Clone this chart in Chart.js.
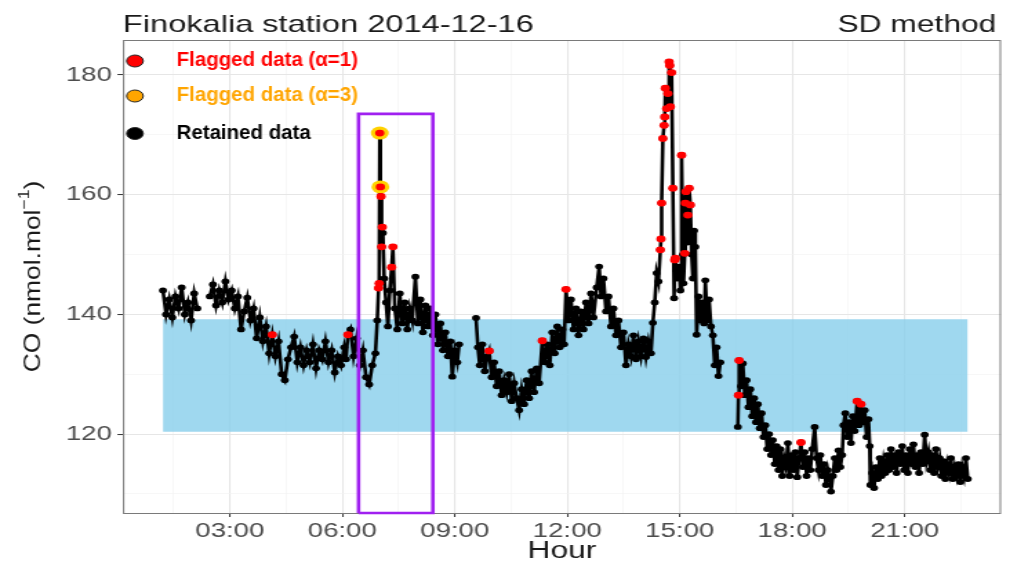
<!DOCTYPE html>
<html>
<head>
<meta charset="utf-8">
<title>Finokalia station 2014-12-16</title>
<script src="https://cdn.jsdelivr.net/npm/chart.js@4.4.1/dist/chart.umd.min.js"></script>
<style>
    html, body { margin: 0; padding: 0; background: #fff; overflow: hidden; }
    /* the reference is drawn wide: render narrow, then stretch horizontally */
    #wrap {
        position: absolute; left: 0; top: 0;
        width: 732px; height: 562px;
        transform: scaleX(1.3798); transform-origin: 0 0;
    }
</style>
</head>
<body>
<div id="wrap"><canvas id="coChart"></canvas></div>
<script>
// ---- data (CO, nmol/mol) ----

// segment 1
const times1 = ['01:13','01:18','01:23','01:28','01:33','01:38','01:43','01:48','01:53','01:58','02:03','02:08'];
const co1    = [144, 140, 142.5, 139.5, 143, 141, 144.5, 140, 142, 139, 143.5, 141];

// segment 2
const times2 = [
    '02:28','02:33','02:38','02:43','02:48','02:53','02:58','03:03','03:08','03:13',
    '03:18','03:23','03:28','03:33','03:38','03:43','03:48','03:53','03:58','04:03',
    '04:08','04:13','04:18','04:23','04:28','04:33','04:38','04:43','04:48','04:53',
    '04:58','05:03','05:08','05:13','05:18','05:23','05:28','05:33','05:38','05:43',
    '05:48','05:53','05:58','06:03','06:06','06:09','06:13','06:18','06:23','06:28',
    '06:33','06:38','06:43','06:48','06:53','06:56','06:58','06:59','07:00','07:01',
    '07:02','07:03','07:04','07:05','07:07','07:10','07:13','07:16','07:19','07:21',
    '07:24','07:28','07:32','07:36','07:40','07:44','07:48','07:52','07:57','08:01',
    '08:05','08:09','08:13','08:17','08:21','08:25','08:29','08:33','08:37','08:41',
    '08:45','08:49','08:53','08:56','09:00','09:04','09:07'
];
const co2 = [
    143, 145, 141.5, 144, 142, 145.5, 142.5, 144, 141, 143,
    137.5, 140.5, 142.8, 139, 141, 136, 139.5, 135.5, 138, 133.5,
    136.6, 133, 135.5, 130, 129, 132.5, 134.5, 136.3, 132, 134.5,
    131.5, 134, 132, 135, 131, 134, 132.5, 135.5, 132, 134,
    130.3, 133, 131.5, 134.5, 132.5, 136.6, 137.5, 133, 136, 131.5,
    134, 129.5, 128.3, 131.5, 133.5, 139, 144.4, 145.2, 170.3, 161.3,
    159.7, 151.3, 154.6, 153.6, 146, 142, 138, 144, 147.9, 151.3,
    141, 137.5, 143.5, 138.5, 142, 137.5, 141, 139, 146.3, 138.5,
    142.5, 137, 141.5, 138, 141, 136.5, 140, 135, 138.5, 134,
    137, 133, 135.5, 129.6, 134, 132, 135
];

// segment 3
const times3 = [
    '09:34','09:37','09:40','09:44','09:48','09:52','09:55','09:59','10:03','10:07',
    '10:11','10:15','10:19','10:23','10:27','10:31','10:35','10:39','10:43','10:47',
    '10:51','10:55','10:59','11:03','11:07','11:11','11:15','11:20','11:24','11:28',
    '11:32','11:36','11:40','11:44','11:48','11:52','11:55','11:58','12:02','12:06',
    '12:10','12:14','12:18','12:22','12:26','12:30','12:34','12:38','12:42','12:47',
    '12:51','12:54','12:58','13:02','13:06','13:10','13:14','13:18','13:22','13:26',
    '13:30','13:34','13:38','13:42','13:46','13:50','13:54','13:58','14:02','14:06',
    '14:10','14:14','14:17','14:20','14:23','14:26','14:29','14:30','14:31','14:33',
    '14:35','14:36','14:37','14:39','14:41','14:43','14:44','14:45','14:47','14:49',
    '14:51','14:52','14:53','14:56','14:59','15:01','15:03','15:05','15:06','15:08',
    '15:09','15:10','15:12','15:13','15:15','15:17','15:19','15:21','15:23','15:25',
    '15:27','15:30','15:33','15:36','15:39','15:41','15:44','15:47','15:50','15:53',
    '15:56','15:59','16:02','16:05'
];
const co3 = [
    139.4, 134.5, 131.5, 135, 130.5, 133, 133.9, 129.5, 132, 128,
    130.5, 126.5, 129, 127, 130, 125.5, 128.5, 126, 124, 127.5,
    125, 129, 126, 130.5, 127, 131, 128.5, 135.6, 132, 135,
    131.5, 137, 133.5, 138, 134.5, 137.5, 135, 144.2, 139, 142.5,
    137.5, 141, 136.5, 140.5, 137.5, 142, 138.5, 143.5, 139.5, 144.5,
    148, 143, 146, 140.5, 143, 138, 141, 136.5, 139, 134.5,
    137, 131.5, 135, 133, 136.5, 132.5, 135.5, 133, 136, 132.9,
    135.5, 133.5, 138.6, 142, 146.9, 145.5, 150.8, 152.6, 158.6, 169.4,
    171.6, 173, 177.8, 174.4, 176.9, 182.2, 181.6, 174.7, 180.4, 161.1,
    142.7, 149.1, 149.4, 146, 148, 144, 166.6, 150, 145.2, 150.2,
    158.6, 160.5, 152, 156.6, 161.1, 158.3, 150, 146, 154, 151.3,
    136.6, 143, 139, 142, 138.5, 145.7, 139, 142.5, 138, 136.5,
    131.5, 134.5, 129.7, 132
];

// segment 4
const times4 = [
    '16:33','16:34','16:35','16:38','16:41','16:44','16:47','16:50','16:53','16:56',
    '16:59','17:02','17:05','17:08','17:11','17:14','17:17','17:20','17:23','17:26',
    '17:29','17:32','17:35','17:38','17:41','17:44','17:47','17:50','17:53','17:56',
    '17:59','18:02','18:05','18:08','18:11','18:14','18:17','18:20','18:23','18:26',
    '18:29','18:32','18:36','18:39','18:42','18:45','18:48','18:51','18:54','18:57',
    '19:00','19:02','19:05','19:08','19:11','19:14','19:17','19:20','19:22','19:25',
    '19:28','19:31','19:34','19:37','19:40','19:44','19:47','19:50','19:53','19:56',
    '19:59','20:02','20:04','20:05','20:08','20:11','20:14','20:17','20:20','20:23',
    '20:26','20:29','20:32','20:35','20:38','20:41','20:44','20:47','20:50','20:53',
    '20:56','20:59','21:02','21:05','21:08','21:11','21:14','21:17','21:20','21:23',
    '21:26','21:29','21:32','21:35','21:38','21:41','21:44','21:47','21:50','21:53',
    '21:56','21:59','22:02','22:05','22:08','22:11','22:14','22:17','22:20','22:23',
    '22:26','22:29','22:32','22:35','22:38','22:41'
];
const co4 = [
    121.2, 126.5, 132.3, 128, 131.8, 126.5, 129, 124.5, 127.5, 123,
    126, 122, 125, 121, 123.5, 119.5, 121.5, 117.5, 120, 116.5,
    119, 115, 118, 114, 117.5, 113, 116, 114.5, 118.5, 113,
    116.5, 114, 117, 112.8, 116, 118.6, 114.5, 117, 113, 116,
    114, 117.5, 121.2, 116, 114, 116.5, 113, 115, 111.5, 114,
    112.5, 110.4, 113, 116, 114, 117.3, 114.5, 116.5, 121.5, 123.5,
    119.5, 122, 118.5, 123, 120.5, 125.5, 121.5, 125, 122, 124,
    119.5, 122.5, 118, 111.5, 113.5, 111, 114.5, 112.5, 116, 113,
    115.5, 113.5, 116.5, 114, 117.5, 114.5, 116.5, 113.5, 117, 115,
    118, 114, 116.5, 113.5, 117.5, 115, 118.3, 114.5, 116.5, 113.5,
    117, 115, 119.9, 115.5, 117, 114, 116.5, 113.5, 117.5, 114.5,
    116, 113, 115.5, 112.5, 115, 113.5, 116, 112.5, 114.5, 113,
    115, 112, 114.5, 113, 116, 112.5
];

// flagged observations (times of the series)
const flaggedAlpha1 = [
    '04:08','06:09','06:58','06:59','07:00','07:01','07:02','07:03','07:04','07:19','07:21',
    '09:55','11:20','11:58','14:29','14:30','14:31','14:33','14:35','14:36','14:37','14:39',
    '14:41','14:43','14:44','14:45','14:47','14:49','14:52','14:53','15:03','15:08','15:09',
    '15:10','15:13','15:15','15:17','16:34','16:35','18:14','19:44','19:50'
];
const flaggedAlpha3 = ['07:00', '07:01'];

// retained range (shaded band) and the highlighted event window
const bandLow = 120.4;
const bandHigh = 139.2;
const eventStart = '06:26';
const eventEnd = '08:25';
const eventTop = 173.5;

// axes
const xLimits = [0.15, 23.57];
const yLimits = [106.82, 185.85];
const xTickHours = [1.5, 3, 4.5, 6, 7.5, 9, 10.5, 12, 13.5, 15, 16.5, 18, 19.5, 21, 22.5];
const yTickValues = [110, 120, 130, 140, 150, 160, 170, 180];

// ---- helpers ----
const STRETCH = 1010 / 732;
const FONT = "'Liberation Sans', Arial, sans-serif";

const toHours = t => Number(t.slice(0, 2)) + Number(t.slice(3, 5)) / 60;

const segments = [
    { times: times1, values: co1 },
    { times: times2, values: co2 },
    { times: times3, values: co3 },
    { times: times4, values: co4 }
];

// full series, with a null between segments so the line breaks at the gaps
const seriesPoints = [];
const valueAt = {};
segments.forEach((seg, i) => {
    if (i > 0) seriesPoints.push({ x: toHours(seg.times[0]) - 0.01, y: null });
    seg.times.forEach((t, j) => {
        seriesPoints.push({ x: toHours(t), y: seg.values[j] });
        valueAt[t] = seg.values[j];
    });
});

const firstHour = toHours(times1[0]);
const lastHour = toHours(times4[times4.length - 1]);

const pad2 = n => String(n).padStart(2, '0');

// ---- frame, titles and legend ----
const decorations = {
    id: 'decorations',
    beforeDatasetsDraw(chart) {
        const { ctx, chartArea: a } = chart;
        ctx.save();
        ctx.strokeStyle = '#7a7a7a';
        ctx.lineWidth = 1;
        ctx.strokeRect(a.left + 0.5, a.top + 0.5, a.right - a.left - 1, a.bottom - a.top);
        ctx.restore();
    },
    afterDraw(chart) {
        const { ctx, chartArea: a } = chart;
        ctx.save();

        // plot title and method label
        ctx.fillStyle = '#1a1a1a';
        ctx.textBaseline = 'alphabetic';
        ctx.textAlign = 'left';
        ctx.font = '23.6px ' + FONT;
        ctx.fillText('Finokalia station 2014-12-16', a.left, 31.5);
        ctx.font = '23px ' + FONT;
        ctx.textAlign = 'right';
        ctx.fillText('SD method', 722, 31.5);

        // x axis title
        ctx.textAlign = 'center';
        ctx.fillText('Hour', (a.left + a.right) / 2, 558);

        // y axis title, rotated, with superscript
        ctx.save();
        ctx.translate(22.5, (a.top + a.bottom) / 2);
        ctx.scale(1 / STRETCH, 1);
        ctx.rotate(-Math.PI / 2);
        ctx.scale(1.1, 1);
        const mainFont = '24px ' + FONT;
        const supFont = '16px ' + FONT;
        ctx.font = mainFont;
        const w1 = ctx.measureText('CO (nmol.mol').width;
        const w3 = ctx.measureText(')').width;
        ctx.font = supFont;
        const w2 = ctx.measureText('\u22121').width;
        let x = -(w1 + w2 + w3) / 2;
        ctx.textAlign = 'left';
        ctx.font = mainFont;
        ctx.fillText('CO (nmol.mol', x, 8.5);
        x += w1;
        ctx.font = supFont;
        ctx.fillText('\u22121', x, -1.5);
        x += w2;
        ctx.font = mainFont;
        ctx.fillText(')', x, 8.5);
        ctx.restore();

        // legend inside the panel
        const rows = [
            { label: 'Flagged data (\u03b1=1)', marker: '#ff0000', color: '#ff0000', y: 61 },
            { label: 'Flagged data (\u03b1=3)', marker: '#ffa500', color: '#ffa500', y: 96 },
            { label: 'Retained data', marker: '#000000', color: '#000000', y: 133.5 }
        ];
        rows.forEach(r => {
            ctx.beginPath();
            ctx.arc(97.8, r.y, 6, 0, Math.PI * 2);
            ctx.fillStyle = r.marker;
            ctx.fill();
            ctx.lineWidth = 1;
            ctx.strokeStyle = '#222';
            ctx.stroke();

            ctx.save();
            ctx.translate(128, r.y);
            ctx.scale(0.76, 1);
            ctx.font = 'bold 19.5px ' + FONT;
            ctx.textAlign = 'left';
            ctx.textBaseline = 'middle';
            ctx.fillStyle = r.color;
            ctx.fillText(r.label, 0, 0);
            ctx.restore();
        });

        ctx.restore();
    }
};

// ---- chart ----
const isMajorX = v => v % 3 === 0;
const isMajorY = v => v % 20 === 0;

new Chart(document.getElementById('coChart'), {
    type: 'line',
    data: {
        datasets: [
            {
                // event window
                data: [
                    { x: toHours(eventStart), y: yLimits[0] },
                    { x: toHours(eventStart), y: eventTop },
                    { x: toHours(eventEnd), y: eventTop },
                    { x: toHours(eventEnd), y: yLimits[0] },
                    { x: toHours(eventStart), y: yLimits[0] }
                ],
                borderColor: '#a020f0',
                borderWidth: 2.6,
                borderJoinStyle: 'miter',
                pointRadius: 0,
                fill: false,
                clip: false,
                order: 0
            },
            {
                label: 'Flagged data (α=1)',
                data: flaggedAlpha1.map(t => ({ x: toHours(t), y: valueAt[t] })),
                showLine: false,
                pointRadius: 3.4,
                pointBorderWidth: 0,
                pointBackgroundColor: '#ff0000',
                order: 1
            },
            {
                label: 'Flagged data (α=3)',
                data: flaggedAlpha3.map(t => ({ x: toHours(t), y: valueAt[t] })),
                showLine: false,
                pointRadius: 6.5,
                pointBorderWidth: 0,
                pointBackgroundColor: '#ffd200',
                order: 2
            },
            {
                label: 'Retained data',
                data: seriesPoints,
                borderColor: '#000',
                borderWidth: 2.6,
                pointRadius: 2.9,
                pointBorderWidth: 0,
                pointBackgroundColor: '#000',
                spanGaps: false,
                tension: 0,
                order: 3
            },
            {
                // band upper edge, filled down to the next dataset
                data: [{ x: firstHour, y: bandHigh }, { x: lastHour, y: bandHigh }],
                borderColor: 'transparent',
                borderWidth: 0,
                pointRadius: 0,
                fill: '+1',
                backgroundColor: 'rgba(135, 206, 235, 0.8)',
                order: 4
            },
            {
                data: [{ x: firstHour, y: bandLow }, { x: lastHour, y: bandLow }],
                borderColor: 'transparent',
                borderWidth: 0,
                pointRadius: 0,
                fill: false,
                order: 4
            }
        ]
    },
    options: {
        responsive: true,
        maintainAspectRatio: false,
        animation: false,
        events: [],
        layout: { padding: { top: 40, right: 5, bottom: 0, left: 0 } },
        plugins: {
            legend: { display: false },
            tooltip: { enabled: false },
            title: { display: false }
        },
        scales: {
            x: {
                type: 'linear',
                min: xLimits[0],
                max: xLimits[1],
                afterBuildTicks: s => { s.ticks = xTickHours.map(v => ({ value: v })); },
                afterFit: s => { s.height = 49; },
                border: { display: false },
                grid: {
                    color: c => isMajorX(c.tick.value) ? '#e6e6e6' : '#f2f2f2',
                    lineWidth: c => isMajorX(c.tick.value) ? 1.1 : 0.6,
                    tickColor: c => isMajorX(c.tick.value) ? '#333' : 'rgba(0,0,0,0)',
                    tickLength: 4,
                    tickWidth: 1
                },
                ticks: {
                    autoSkip: false,
                    maxRotation: 0,
                    padding: 2,
                    color: '#4d4d4d',
                    font: { family: FONT, size: 20 },
                    callback: v => isMajorX(v) ? pad2(v) + ':00' : ''
                }
            },
            y: {
                type: 'linear',
                min: yLimits[0],
                max: yLimits[1],
                afterBuildTicks: s => { s.ticks = yTickValues.map(v => ({ value: v })); },
                afterFit: s => { s.width = 89.1; },
                border: { display: false },
                grid: {
                    color: c => isMajorY(c.tick.value) ? '#e6e6e6' : '#f2f2f2',
                    lineWidth: c => isMajorY(c.tick.value) ? 1.1 : 0.6,
                    tickColor: c => isMajorY(c.tick.value) ? '#333' : 'rgba(0,0,0,0)',
                    tickLength: 4,
                    tickWidth: 1
                },
                ticks: {
                    padding: 4,
                    color: '#4d4d4d',
                    font: { family: FONT, size: 20 },
                    callback: v => isMajorY(v) ? String(v) : ''
                }
            }
        }
    },
    plugins: [decorations]
});
</script>
</body>
</html>
